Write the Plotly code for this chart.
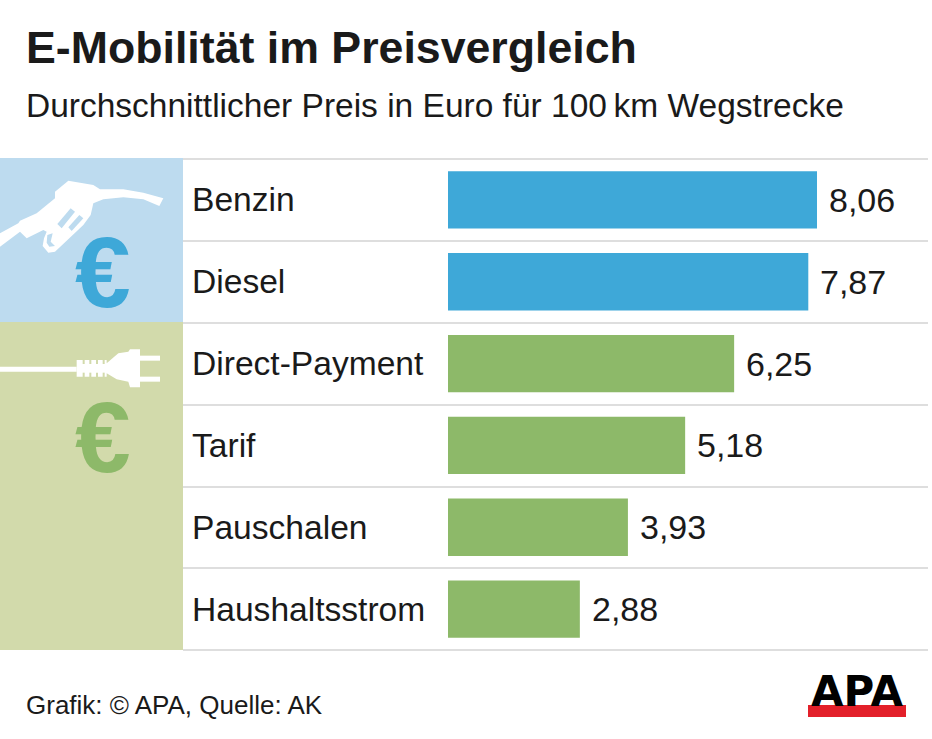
import plotly.graph_objects as go

categories = ["Benzin", "Diesel", "Direct-Payment", "Tarif", "Pauschalen", "Haushaltsstrom"]
values = [8.06, 7.87, 6.25, 5.18, 3.93, 2.88]
value_labels = ["8,06", "7,87", "6,25", "5,18", "3,93", "2,88"]
bar_colors = ["#3EA8D8", "#3EA8D8", "#8DB969", "#8DB969", "#8DB969", "#8DB969"]

W, H = 932, 739
FONT = "Liberation Sans, Arial, sans-serif"
PX_PER_UNIT = 369 / 8.06
X0 = 448

def px(x): return x / W
def py(y): return 1 - y / H

def poly(points):
    return "M " + " L ".join(f"{px(x)},{py(y)}" for x, y in points) + " Z"

def rect(x0, y0, x1, y1, color):
    return dict(type="rect", xref="paper", yref="paper", x0=px(x0), x1=px(x1),
                y0=py(y1), y1=py(y0), fillcolor=color, line_width=0, layer="below")

def icon(points, color, ox, oy):
    """Decorative outline given at 3x scale relative to the pixel origin (ox, oy)."""
    pts = [(ox + x / 3, oy + y / 3) for x, y in points]
    return dict(type="path", xref="paper", yref="paper", path=poly(pts),
                fillcolor=color, line_width=0, layer="above")

fig = go.Figure(go.Bar(
    x=values, y=categories, orientation="h", width=0.7,
    marker=dict(color=bar_colors, line_width=0), hoverinfo="skip",
))

LIGHT_BLUE, LIGHT_GREEN = "#BDDBEF", "#D2DAAB"
shapes = [rect(0, 158, 183, 322, LIGHT_BLUE), rect(0, 322, 183, 650, LIGHT_GREEN)]
for y in [159, 241, 323, 405, 487, 568, 650]:
    shapes.append(dict(type="line", xref="paper", yref="paper", x0=px(183), x1=px(928),
                       y0=py(y), y1=py(y), line=dict(color="#DEDEDE", width=2), layer="below"))

# fuel nozzle
N = (0, 170)
shapes.append(icon([(0, 190), (55, 160), (60, 152), (110, 130), (165, 85), (165, 65), (205, 32), (280, 45),
                    (300, 58), (370, 58), (430, 68), (490, 85), (478, 108), (430, 88), (370, 82),
                    (310, 88), (280, 100), (272, 135), (250, 165), (165, 245), (145, 248), (128, 228),
                    (132, 205), (140, 185), (130, 180), (80, 205), (60, 185), (0, 230)], "#FFFFFF", *N))
shapes.append(icon([(172, 162), (212, 115), (225, 125), (185, 175)], LIGHT_BLUE, *N))
shapes.append(icon([(205, 172), (238, 135), (250, 145), (215, 183)], LIGHT_BLUE, *N))
shapes.append(icon([(142, 195), (158, 190), (152, 215), (165, 228), (148, 230), (140, 218)], LIGHT_BLUE, *N))
# plug
P = (60, 340)
shapes.append(icon([(-180, 80), (50, 80), (50, 95), (-180, 95)], "#FFFFFF", *P))
shapes.append(icon([(50, 60), (140, 60), (140, 70), (175, 40), (205, 35), (210, 28), (240, 28), (240, 142),
                    (210, 142), (205, 125), (170, 118), (140, 100), (140, 110), (50, 110)], "#FFFFFF", *P))
shapes.append(icon([(240, 47), (300, 47), (300, 62), (240, 62)], "#FFFFFF", *P))
shapes.append(icon([(240, 110), (300, 110), (300, 125), (240, 125)], "#FFFFFF", *P))
for rib_x in [68, 88, 108, 128]:
    shapes.append(icon([(rib_x, 58), (rib_x + 6, 58), (rib_x + 6, 72), (rib_x, 72)], LIGHT_GREEN, *P))
    shapes.append(icon([(rib_x, 98), (rib_x + 6, 98), (rib_x + 6, 112), (rib_x, 112)], LIGHT_GREEN, *P))
# logo bar
shapes.append(dict(type="rect", xref="paper", yref="paper", x0=px(808), x1=px(906), y0=py(717),
                   y1=py(705), fillcolor="#E3202A", line_width=0, layer="above"))

def paper_text(text, x, y, size, color="#1A1A1A", bold=False, xanchor="left"):
    return dict(text=f"<b>{text}</b>" if bold else text, x=px(x), y=py(y), xref="paper", yref="paper",
                xanchor=xanchor, yanchor="middle", showarrow=False,
                font=dict(family=FONT, size=size, color=color))

annotations = [
    paper_text("E-Mobilität im Preisvergleich", 24, 47, 44.7, bold=True),
    paper_text("Durchschnittlicher Preis in Euro für 100\u2009km Wegstrecke", 24, 106, 33.5),
    paper_text("Grafik: © APA, Quelle: AK", 24, 705, 26),
    paper_text("€", 103, 272, 100, color="#3EA8D8", bold=True, xanchor="center"),
    paper_text("€", 103, 437, 100, color="#8DB969", bold=True, xanchor="center"),
    dict(text="<b>APA</b>", x=px(857), y=py(691), xref="paper", yref="paper", showarrow=False,
         xanchor="center", yanchor="middle",
         font=dict(family="DejaVu Sans, sans-serif", size=42, color="#000000")),
]
for cat, val, lab in zip(categories, values, value_labels):
    annotations.append(dict(text=cat, x=px(190), y=cat, xref="paper", yref="y", xanchor="left",
                            yanchor="middle", showarrow=False, font=dict(family=FONT, size=33.6, color="#1A1A1A")))
    annotations.append(dict(text=lab, x=val, y=cat, xref="x", yref="y", xanchor="left", yanchor="middle",
                            xshift=10, showarrow=False, font=dict(family=FONT, size=34, color="#1A1A1A")))

fig.update_layout(
    width=W, height=H, margin=dict(l=0, r=0, t=0, b=0), autosize=False,
    paper_bgcolor="#FFFFFF", plot_bgcolor="rgba(0,0,0,0)", showlegend=False,
    shapes=shapes, annotations=annotations,
    xaxis=dict(range=[-X0 / PX_PER_UNIT, (W - X0) / PX_PER_UNIT], visible=False, fixedrange=True),
    yaxis=dict(range=[5.5, -0.5], domain=[py(650), py(159)], visible=False, type="category",
               categoryorder="array", categoryarray=categories, fixedrange=True),
)
fig.write_html("out.html", config=dict(displayModeBar=False),
               post_script="document.body.style.margin='0';document.documentElement.style.overflow='hidden';")
